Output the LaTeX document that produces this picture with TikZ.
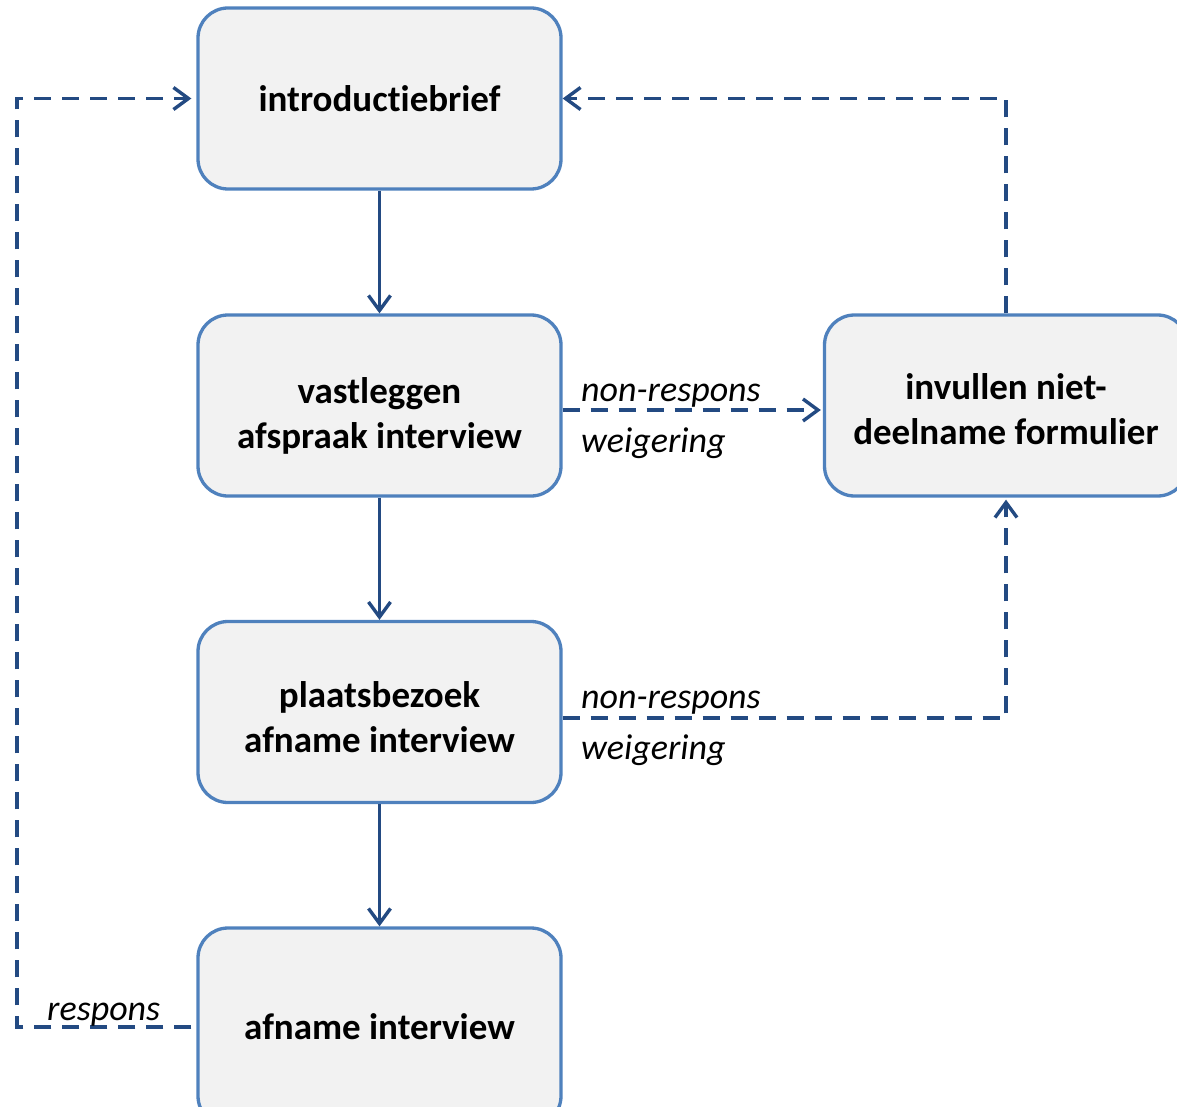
\documentclass[tikz,border=0pt]{standalone}
\usepackage{fontspec}
\setmainfont{Carlito}[Ligatures=CommonOff]
\usetikzlibrary{arrows.meta}
\definecolor{boxline}{HTML}{4F81BD}
\definecolor{boxfill}{HTML}{F2F2F2}
\definecolor{conn}{HTML}{234A82}
\begin{document}
\begin{tikzpicture}[x=1pt,y=-1pt,
  procbox/.style={draw=boxline, fill=boxfill, line width=3.3pt, rounded corners=30pt,
    minimum width=363pt, minimum height=181pt, align=center,
    font=\fontsize{37}{45}\selectfont\bfseries, inner sep=0pt},
  twoline/.style={text height=#1, text depth=5pt},
  flow/.style={draw=conn, line width=3.4pt, -{Straight Barb[length=15pt,width=22pt]}},
  alt/.style={flow, dash pattern=on 17pt off 11pt},
  lbl/.style={font=\fontsize{36}{44}\selectfont\itshape, inner sep=0pt, anchor=base west}]
\useasboundingbox (0,0) rectangle (1177,1107);
\node[procbox] (intro) at (379.5,98.5) {introductiebrief};
\node[procbox, twoline=90pt] (vast) at (379.5,405.5) {vastleggen\\afspraak interview};
\node[procbox, twoline=85pt] (plaats) at (379.5,712) {plaatsbezoek\\afname interview};
\node[procbox, minimum height=198pt] (afname) at (379.5,1027) {afname interview};
\node[procbox, twoline=82pt] (inv) at (1006,405.5) {invullen niet-\\deelname formulier};
\coordinate (lft) at (17,1027);
\draw[flow] (intro) -- (vast);
\draw[flow] (vast) -- (plaats);
\draw[flow] (plaats) -- (afname);
\draw[alt, shorten >=2pt] ([yshift=-4.5pt]vast.east) -- ([yshift=-4.5pt]inv.west);
\draw[alt, shorten >=2pt] ([yshift=-6pt]plaats.east) -| (inv.south);
\draw[alt] (inv.north) |- (intro.east);
\draw[alt] ([xshift=-5pt]afname.west) -- (lft) |- ([xshift=-5pt]intro.west);
\node[lbl] (nr1) at (581,401) {non-respons};
\node[lbl] (wg1) at (581,452) {weigering};
\node[lbl] (nr2) at (581,708) {non-respons};
\node[lbl] (wg2) at (581,759) {weigering};
\node[lbl] (rs) at (47,1020) {respons};
\end{tikzpicture}
\end{document}
